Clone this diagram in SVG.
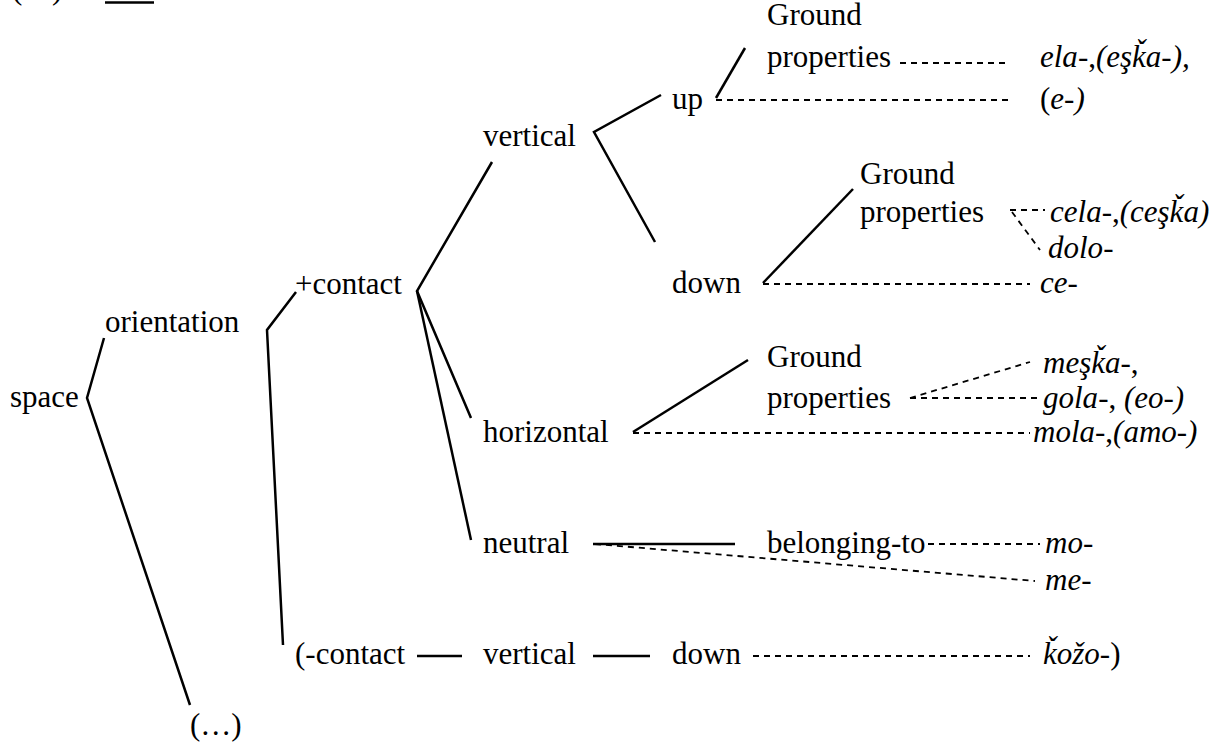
<svg xmlns="http://www.w3.org/2000/svg" width="1229" height="742" viewBox="0 0 1229 742">
<style>
text{font-family:"Liberation Serif","Times New Roman",serif;font-size:31px;fill:#000}
.i{font-style:italic}
.n{font-style:normal}
.s{stroke:#000;stroke-width:2.5;fill:none}
.d{stroke:#000;stroke-width:1.8;fill:none;stroke-dasharray:6 5}
</style>
<rect width="1229" height="742" fill="#fff"/>
<g id="header">
<text x="12" y="-1">(</text><text x="52" y="-1">)</text>
<line class="s" x1="105" y1="2.5" x2="154" y2="2.5" stroke-width="3"/>
</g>
<g id="connectors">
<polyline class="s" points="104,338 87,398 190,705"/>
<polyline class="s" points="296,292 267,330 283,645"/>
<polyline class="s" points="492,162 417,291 471,418"/>
<line class="s" x1="417" y1="291" x2="471" y2="540"/>
<polyline class="s" points="661,95 594,132 655,242"/>
<line class="s" x1="716" y1="98" x2="745" y2="48"/>
<line class="s" x1="763" y1="283" x2="853" y2="189"/>
<line class="s" x1="633" y1="432" x2="748" y2="360"/>
<line class="s" x1="593" y1="544" x2="735" y2="544"/>
<line class="s" x1="417" y1="656" x2="462" y2="656"/>
<line class="s" x1="593" y1="656" x2="650" y2="656"/>
<line class="d" x1="900" y1="63" x2="1010" y2="63"/>
<line class="d" x1="716" y1="100" x2="1010" y2="100"/>
<line class="d" x1="1010" y1="210" x2="1045" y2="210"/>
<line class="d" x1="1012" y1="212" x2="1040" y2="250"/>
<line class="d" x1="763" y1="284" x2="1030" y2="284"/>
<line class="d" x1="910" y1="398" x2="1030" y2="362"/>
<line class="d" x1="910" y1="398" x2="1040" y2="398"/>
<line class="d" x1="633" y1="433" x2="1030" y2="433"/>
<line class="d" x1="595" y1="544" x2="1035" y2="581"/>
<line class="d" x1="928" y1="544" x2="1040" y2="544"/>
<line class="d" x1="753" y1="656" x2="1030" y2="656"/>
</g>
<g id="space"><text x="10" y="407">space</text></g>
<g id="orientation"><text x="105" y="332">orientation</text></g>
<g id="plus-contact"><text x="295" y="294">+contact</text></g>
<g id="minus-contact"><text x="295" y="664">(-contact</text></g>
<g id="ellipsis"><text x="190" y="735">(…)</text></g>
<g id="vertical"><text x="483" y="146">vertical</text></g>
<g id="horizontal"><text x="483" y="442">horizontal</text></g>
<g id="neutral"><text x="483" y="553">neutral</text></g>
<g id="vertical2"><text x="483" y="664">vertical</text></g>
<g id="up"><text x="672" y="109">up</text></g>
<g id="down"><text x="672" y="293">down</text></g>
<g id="down2"><text x="672" y="664">down</text></g>
<g id="ground1"><text x="767" y="25">Ground</text><text x="767" y="67">properties</text></g>
<g id="ground2"><text x="860" y="184">Ground</text><text x="860" y="222">properties</text></g>
<g id="ground3"><text x="767" y="367">Ground</text><text x="767" y="408">properties</text></g>
<g id="belonging"><text x="767" y="553">belonging-to</text></g>
<g id="ela"><text x="1040" y="67" class="i">ela<tspan class="n">-,</tspan>(eşǩa-),</text></g>
<g id="e"><text x="1040" y="109">(<tspan class="i">e-)</tspan></text></g>
<g id="cela"><text x="1050" y="222" class="i">cela<tspan class="n">-,</tspan>(ceşǩa)</text></g>
<g id="dolo"><text x="1048" y="258" class="i">dolo<tspan class="n">-</tspan></text></g>
<g id="ce"><text x="1040" y="293" class="i">ce<tspan class="n">-</tspan></text></g>
<g id="meska"><text x="1043" y="373" class="i">meşǩa<tspan class="n">-,</tspan></text></g>
<g id="gola"><text x="1043" y="408" class="i">gola<tspan class="n">-, </tspan>(eo-)</text></g>
<g id="mola"><text x="1033" y="442" class="i">mola<tspan class="n">-,</tspan>(amo-)</text></g>
<g id="mo"><text x="1045" y="553" class="i">mo<tspan class="n">-</tspan></text></g>
<g id="me"><text x="1045" y="590" class="i">me<tspan class="n">-</tspan></text></g>
<g id="kozo"><text x="1043" y="664" class="i">ǩožo-<tspan class="n">)</tspan></text></g>
</svg>
